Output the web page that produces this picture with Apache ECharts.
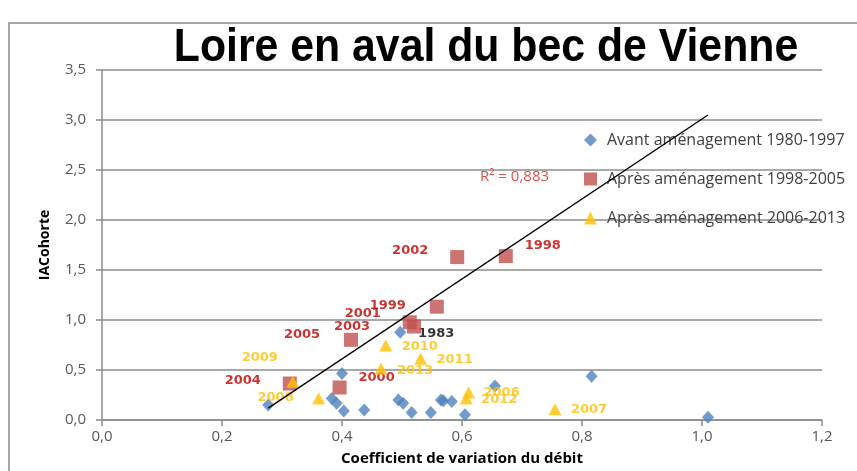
<!DOCTYPE html>
<html>
<head>
<meta charset="utf-8">
<title>Loire en aval du bec de Vienne</title>
<script src="https://cdn.jsdelivr.net/npm/echarts@6/dist/echarts.min.js"></script>
<style>
  html, body { margin: 0; padding: 0; background: #ffffff; }
  #chart { width: 857px; height: 471px; }
</style>
</head>
<body>
<div id="chart"></div>
<script>
// Coefficient de variation du débit (x) vs IACohorte (y), three periods
const avantX = [0.277, 0.400, 0.383, 0.391, 0.403, 0.437, 0.497, 0.494, 0.502, 0.516, 0.548, 0.565, 0.569, 0.583, 0.605, 0.655, 0.816, 1.010];
const avantY = [0.151, 0.464, 0.216, 0.167, 0.091, 0.101, 0.878, 0.200, 0.167, 0.074, 0.074, 0.200, 0.193, 0.184, 0.052, 0.339, 0.438, 0.028];
const avantYears = ['', '', '', '', '', '', '1983', '', '', '', '', '', '', '', '', '', '', ''];

const apres1Years = ['1998', '1999', '2000', '2001', '2002', '2003', '2004', '2005'];
const apres1X = [0.673, 0.558, 0.396, 0.513, 0.592, 0.520, 0.313, 0.415];
const apres1Y = [1.639, 1.133, 0.325, 0.977, 1.629, 0.935, 0.365, 0.802];

const apres2Years = ['2006', '2007', '2008', '2009', '2010', '2011', '2012', '2013'];
const apres2X = [0.611, 0.755, 0.361, 0.318, 0.473, 0.531, 0.607, 0.465];
const apres2Y = [0.276, 0.107, 0.216, 0.382, 0.746, 0.613, 0.216, 0.514];

const seriesNames = ['Avant aménagement 1980-1997', 'Après aménagement 1998-2005', 'Après aménagement 2006-2013'];
const seriesIcons = ['diamond', 'rect', 'triangle'];

// Linear trend drawn across the range of the 1980-1997 values
const trendSlope = 4.0;
const trendIntercept = -0.99;
const r2Text = 'R² = 0,883';

const titleText = 'Loire en aval du bec de Vienne';

// Pixel offsets of the year labels from their markers
const yearLabelOffset = {
  '1983': [36, 1],
  '1998': [37, -10], '1999': [-49, -1], '2000': [37, -10], '2001': [-47, -9],
  '2002': [-47, -6], '2003': [-62, 0], '2004': [-47, -3], '2005': [-49, -5],
  '2006': [33, 0], '2007': [34, 0], '2008': [-43, -1], '2009': [-33, -24],
  '2010': [34, 1], '2011': [34, 1], '2012': [33, 1], '2013': [34, 2]
};

function buildPoints(xs, ys, years) {
  return xs.map(function (x, i) {
    const yr = years[i];
    const item = { value: [x, ys[i]], name: yr || '' };
    if (yr) {
      item.label = { show: true, offset: yearLabelOffset[yr] || [0, 0] };
    }
    return item;
  });
}

const trendXMin = Math.min.apply(null, avantX);
const trendXMax = Math.max.apply(null, avantX);
const trendData = [
  [trendXMin, trendSlope * trendXMin + trendIntercept],
  [trendXMax, trendSlope * trendXMax + trendIntercept]
];

const commaFmt = function (v) { return v.toFixed(1).replace('.', ','); };

const yearLabelBase = {
  show: false,
  position: 'inside',
  formatter: '{b}',
  fontFamily: 'DejaVu Sans',
  fontWeight: 'bold',
  fontSize: 13
};

const chart = echarts.init(document.getElementById('chart'), null, { renderer: 'canvas' });

chart.setOption({
  backgroundColor: '#ffffff',
  animation: false,
  graphic: [
    {
      type: 'rect',
      silent: true,
      shape: { x: 9, y: 23, width: 900, height: 500 },
      style: { fill: 'none', stroke: '#8c8c8c', lineWidth: 1.5 },
      z: -10
    },
    {
      // condensed bold heading
      type: 'text',
      x: 486,
      y: 48,
      scaleX: 0.91,
      silent: true,
      style: {
        text: titleText,
        fill: '#000000',
        font: 'bold 47px "Liberation Sans", Arial, sans-serif',
        textAlign: 'center',
        textVerticalAlign: 'middle'
      }
    },
    {
      type: 'text',
      left: 480,
      top: 169,
      silent: true,
      style: {
        text: r2Text,
        fill: '#e0504d',
        font: '15px "Open Sans", sans-serif'
      }
    }
  ],
  legend: {
    data: seriesNames.map(function (n, i) {
      return { name: n, icon: seriesIcons[i] };
    }),
    orient: 'vertical',
    left: 579,
    top: 127,
    itemWidth: 13,
    itemHeight: 13,
    itemGap: 23,
    selectedMode: false,
    formatter: function (name) { return '{t|' + name + '}'; },
    textStyle: {
      fontFamily: '"Open Sans", sans-serif',
      fontSize: 16,
      color: '#404040',
      rich: {
        t: {
          fontFamily: '"Open Sans", sans-serif',
          fontSize: 16,
          color: '#404040',
          padding: [0, 0, 0, 5]
        }
      }
    }
  },
  grid: { left: 102, right: 35, top: 70, bottom: 47 },
  xAxis: {
    type: 'value',
    min: 0,
    max: 1.2,
    interval: 0.2,
    name: 'Coefficient de variation du débit',
    nameLocation: 'middle',
    nameGap: 31,
    nameTextStyle: {
      fontFamily: '"Open Sans", sans-serif',
      fontWeight: 'bold',
      fontSize: 15,
      color: '#000000'
    },
    axisLine: { show: true, lineStyle: { color: '#8c8c8c', width: 1.5 } },
    axisTick: { show: true, length: 6, lineStyle: { color: '#8c8c8c', width: 1.5 } },
    axisLabel: {
      formatter: commaFmt,
      margin: 9,
      fontFamily: '"Open Sans", sans-serif',
      fontSize: 15,
      color: '#595959'
    },
    splitLine: { show: false }
  },
  yAxis: {
    type: 'value',
    min: 0,
    max: 3.5,
    interval: 0.5,
    name: 'IACohorte',
    nameLocation: 'middle',
    nameGap: 50,
    nameTextStyle: {
      fontFamily: '"Open Sans", sans-serif',
      fontWeight: 'bold',
      fontSize: 14,
      color: '#000000'
    },
    axisLine: { show: true, lineStyle: { color: '#8c8c8c', width: 1.5 } },
    axisTick: { show: true, length: 6, lineStyle: { color: '#8c8c8c', width: 1.5 } },
    axisLabel: {
      formatter: commaFmt,
      margin: 16,
      fontFamily: '"Open Sans", sans-serif',
      fontSize: 15,
      color: '#595959'
    },
    splitLine: { show: true, lineStyle: { color: '#8c8c8c', width: 1.5 } }
  },
  series: [
    {
      name: seriesNames[0],
      type: 'scatter',
      symbol: seriesIcons[0],
      symbolSize: [12, 13],
      itemStyle: { color: '#4f81bd' },
      label: Object.assign({}, yearLabelBase, { color: '#000000' }),
      data: buildPoints(avantX, avantY, avantYears),
      z: 3
    },
    {
      name: seriesNames[1],
      type: 'scatter',
      symbol: seriesIcons[1],
      symbolSize: 14,
      itemStyle: { color: '#c0504d' },
      label: Object.assign({}, yearLabelBase, { color: '#c00000' }),
      data: buildPoints(apres1X, apres1Y, apres1Years),
      z: 4
    },
    {
      name: seriesNames[2],
      type: 'scatter',
      symbol: seriesIcons[2],
      symbolSize: [13, 12],
      itemStyle: { color: '#ffc000' },
      label: Object.assign({}, yearLabelBase, { color: '#ffc000' }),
      data: buildPoints(apres2X, apres2Y, apres2Years),
      z: 5
    },
    {
      name: 'Tendance',
      type: 'line',
      data: trendData,
      symbol: 'none',
      silent: true,
      lineStyle: { color: '#000000', width: 1.4 },
      z: 6
    }
  ]
});
</script>
</body>
</html>
